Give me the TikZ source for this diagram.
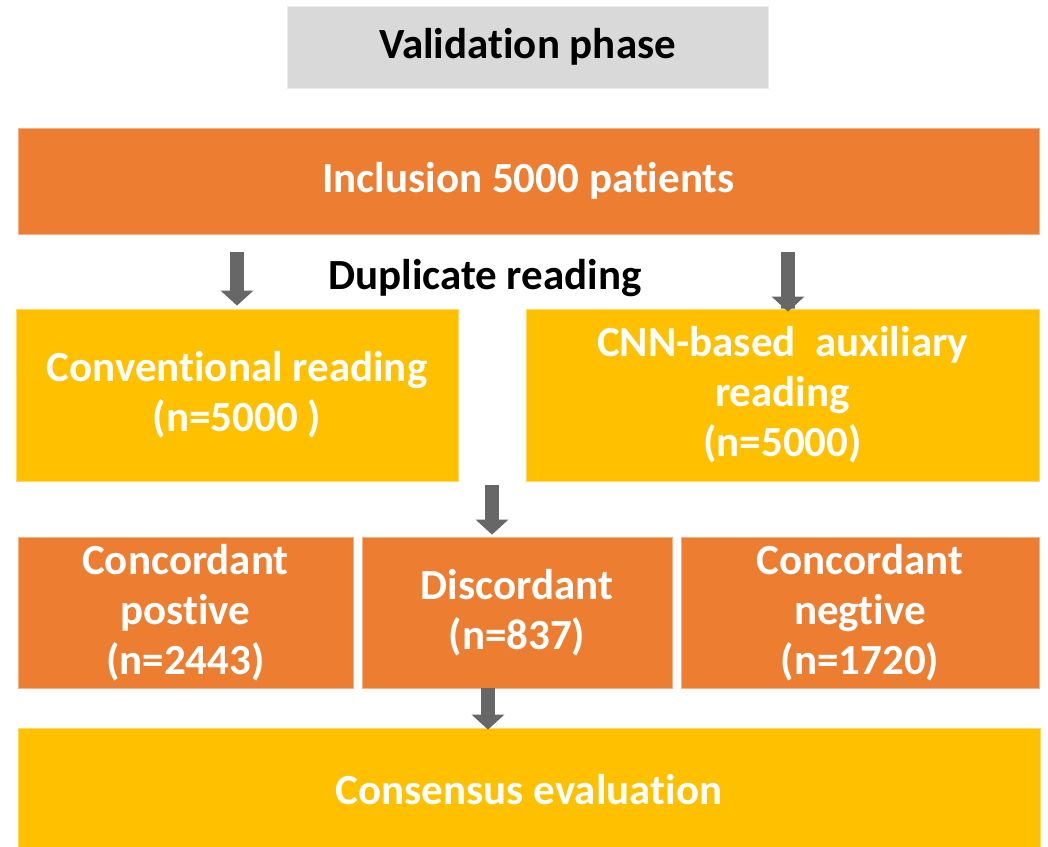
\documentclass[tikz,border=0pt]{standalone}
\usepackage{fontspec}
\setmainfont{Carlito}
\usetikzlibrary{arrows.meta,calc}
\definecolor{boxorange}{HTML}{ED7D31}
\definecolor{boxyellow}{HTML}{FFC000}
\definecolor{boxgray}{HTML}{D9D9D9}
\definecolor{arrowgray}{HTML}{676767}
% keep "t" and "i" as separate glyphs
\newcommand{\tiapart}{t\kern0pt i}
\tikzset{
  panel/.style={rectangle, inner sep=0pt, align=center, text=white,
    font=\fontsize{43}{50}\selectfont\bfseries, line width=0.8pt},
  orangebox/.style={panel, fill=boxorange, draw=boxorange!60!white},
  yellowbox/.style={panel, fill=boxyellow, draw=boxyellow!60!white},
  graybox/.style={panel, fill=boxgray, draw=boxgray!50!white, text=black},
  blockarrow/.style={draw=arrowgray, line width=14pt,
    -{Triangle[width=32pt,length=15pt,fill=arrowgray]}, shorten >=0pt},
  caption/.style={font=\fontsize{43}{50}\selectfont\bfseries, text=black}
}
\begin{document}
\begin{tikzpicture}[x=1pt,y=-1pt]
  \useasboundingbox (0,0) rectangle (1048,846);
  \begin{scope}
  \clip (0,0) rectangle (1048,846);

  % title
  \node[graybox, minimum width=481pt, minimum height=82pt] (title) at (527.5,47) {Valida\tiapart on phase};

  % inclusion
  \node[orangebox, minimum width=1021pt, minimum height=106pt] (incl) at (528.5,181) {Inclusion 5000 pa\tiapart ents};

  \node[caption] (dup) at (485,278) {Duplicate reading};

  % two readings
  \node[yellowbox, minimum width=442pt, minimum height=172pt] (conv) at (237,395)
    {Conven\tiapart onal reading\\(n=5000 )};
  \node[yellowbox, minimum width=513pt, minimum height=172pt] (cnn) at (782.5,395)
    {CNN-based\ \ auxiliary\\reading\\(n=5000)};

  % results
  \node[orangebox, minimum width=335pt, minimum height=151pt] (cpos) at (185.5,612.5)
    {Concordant\\pos\tiapart ve\\(n=2443)};
  \node[orangebox, minimum width=310pt, minimum height=151pt] (disc) at (517,612.5)
    {Discordant\\(n=837)};
  \node[orangebox, minimum width=358pt, minimum height=151pt] (cneg) at (860,612.5)
    {Concordant\\neg\tiapart ve\\(n=1720)};

  % consensus
  \node[yellowbox, minimum width=1022pt, minimum height=124pt] (cons) at (529,790)
    {Consensus evalua\tiapart on};

  % arrows
  \coordinate (a1) at ($(incl.south -| conv.north)+(0,18)$);
  \coordinate (a2) at ($(incl.south)+(259.5,18)$);
  \coordinate (a3) at ($(conv.south east)!0.5!(cnn.south west)+(0,4)$);
  \draw[blockarrow] (a1) -- ([yshift=3pt]conv.north);
  \draw[blockarrow] (a2) -- (a2 |- cnn.north) -- ++(0,3);
  \draw[blockarrow] (a3) -- ($(a3 |- disc.north)+(0,-2)$);
  \draw[blockarrow] ($(disc.south)+(-29,0)$) -- ($(disc.south |- cons.north)+(-29,2)$);
  \end{scope}
\end{tikzpicture}
\end{document}
